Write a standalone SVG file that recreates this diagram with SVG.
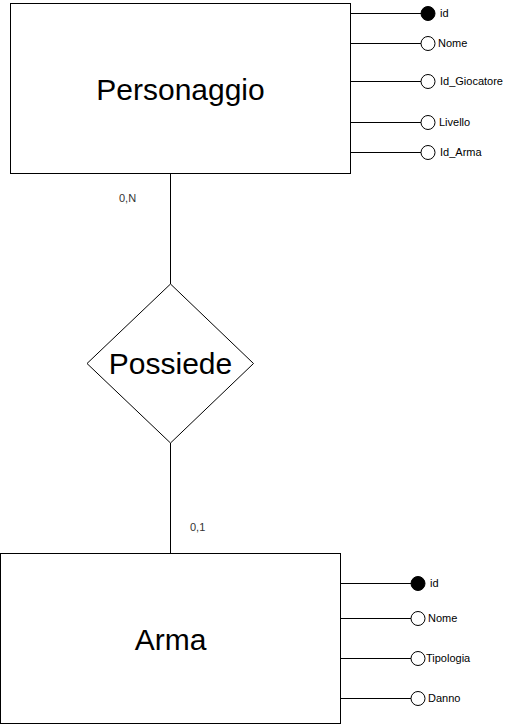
<svg xmlns="http://www.w3.org/2000/svg" width="510" height="724" viewBox="0 0 510 724">
<style>
.box{fill:#fff;stroke:#000;stroke-width:1}
.ln{stroke:#000;stroke-width:1;fill:none}
.att{fill:#fff;stroke:#000;stroke-width:1}
.key{fill:#000;stroke:#000;stroke-width:1}
.big{font-family:"Liberation Sans",Arial,sans-serif;font-size:30px;fill:#000;text-anchor:middle}
.sm{font-family:"Liberation Sans",Arial,sans-serif;font-size:11px;fill:#000}
.card{font-family:"Liberation Sans",Arial,sans-serif;font-size:11px;fill:#333}
</style>
<rect width="510" height="724" fill="#fff"/>
<g id="connectors">
<line class="ln" x1="170.5" y1="173.5" x2="170.5" y2="284"/>
<line class="ln" x1="170.5" y1="443" x2="170.5" y2="553.5"/>
<line class="ln" x1="350.5" y1="13.5" x2="421" y2="13.5"/>
<line class="ln" x1="350.5" y1="43.5" x2="421" y2="43.5"/>
<line class="ln" x1="350.5" y1="81.5" x2="421" y2="81.5"/>
<line class="ln" x1="350.5" y1="122.5" x2="421" y2="122.5"/>
<line class="ln" x1="350.5" y1="152.5" x2="421" y2="152.5"/>
<line class="ln" x1="340.5" y1="583.5" x2="411" y2="583.5"/>
<line class="ln" x1="340.5" y1="618.5" x2="411" y2="618.5"/>
<line class="ln" x1="340.5" y1="658.5" x2="411" y2="658.5"/>
<line class="ln" x1="340.5" y1="698.5" x2="411" y2="698.5"/>
<text class="card" x="119" y="202">0,N</text>
<text class="card" x="190" y="531">0,1</text>
</g>
<g id="personaggio">
<rect class="box" x="10.5" y="3.5" width="340" height="170"/>
<text class="big" x="180.5" y="100">Personaggio</text>
</g>
<g id="personaggio-id">
<circle class="key" cx="428" cy="13.5" r="7"/>
<text class="sm" x="440" y="17">id</text>
</g>
<g id="personaggio-nome">
<circle class="att" cx="428" cy="43.5" r="7"/>
<text class="sm" x="438" y="47">Nome</text>
</g>
<g id="personaggio-idgiocatore">
<circle class="att" cx="428" cy="81.5" r="7"/>
<text class="sm" x="440" y="85">Id_Giocatore</text>
</g>
<g id="personaggio-livello">
<circle class="att" cx="428" cy="122.5" r="7"/>
<text class="sm" x="439" y="126">Livello</text>
</g>
<g id="personaggio-idarma">
<circle class="att" cx="428" cy="152.5" r="7"/>
<text class="sm" x="440" y="156">Id_Arma</text>
</g>
<g id="possiede">
<polygon class="box" points="170.5,284 253.5,363.5 170.5,443 87,363.5"/>
<text class="big" x="170.5" y="374">Possiede</text>
</g>
<g id="arma">
<rect class="box" x="0.5" y="553.5" width="340" height="170"/>
<text class="big" x="170.5" y="650">Arma</text>
</g>
<g id="arma-id">
<circle class="key" cx="418" cy="583.5" r="7"/>
<text class="sm" x="430" y="587">id</text>
</g>
<g id="arma-nome">
<circle class="att" cx="418" cy="618.5" r="7"/>
<text class="sm" x="428" y="622">Nome</text>
</g>
<g id="arma-tipologia">
<circle class="att" cx="418" cy="658.5" r="7"/>
<text class="sm" x="426" y="662">Tipologia</text>
</g>
<g id="arma-danno">
<circle class="att" cx="418" cy="698.5" r="7"/>
<text class="sm" x="428" y="702">Danno</text>
</g>
</svg>
